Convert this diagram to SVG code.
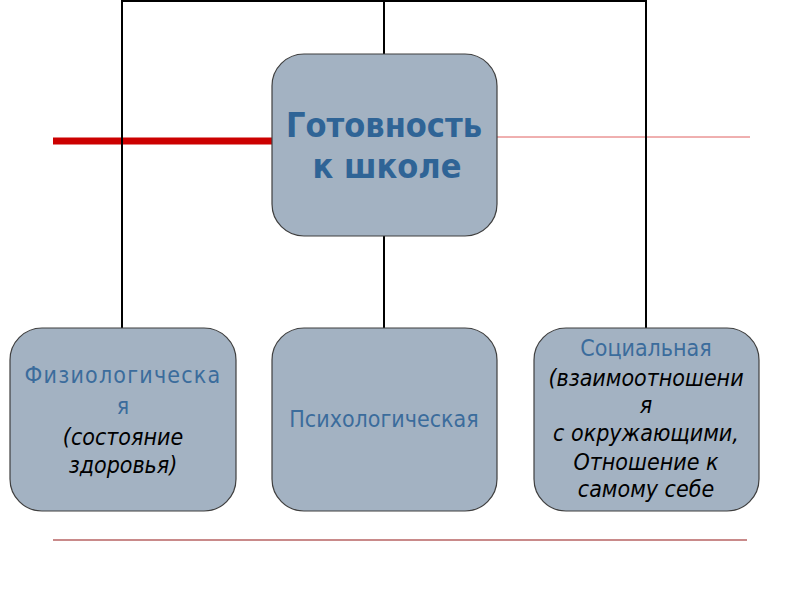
<svg xmlns="http://www.w3.org/2000/svg" width="800" height="600" viewBox="0 0 800 600">
<style>
.box{fill:#a3b2c2;stroke:#3f3f3f;stroke-width:1.2}
.conn{stroke:#000;stroke-width:2;fill:none}
.t{font-family:"DejaVu Sans Condensed","DejaVu Sans",sans-serif;font-stretch:condensed;font-size:23px;text-anchor:middle}
.blue{fill:#3b6c9c}
.it{fill:#000;font-style:italic}
.title{font-family:"DejaVu Sans Condensed","DejaVu Sans",sans-serif;font-stretch:condensed;font-weight:bold;font-size:34px;fill:#2f6496;text-anchor:middle}
</style>
<rect width="800" height="600" fill="#fff"/>
<g id="decor">
<line x1="53" y1="141" x2="272" y2="141" stroke="#cc0000" stroke-width="7"/>
<line x1="497" y1="137" x2="750" y2="137" stroke="#e06060" stroke-width="1"/>
<line x1="53" y1="540" x2="747" y2="540" stroke="#c98a8a" stroke-width="2"/>
</g>
<g id="connectors">
<polyline class="conn" points="122,328 122,1 646,1 646,328"/>
<line class="conn" x1="384" y1="1" x2="384" y2="54"/>
<line class="conn" x1="384" y1="236" x2="384" y2="328"/>
</g>
<g id="node-center">
<rect class="box" x="272" y="54" width="225" height="182" rx="32"/>
<text class="title" x="384" y="137">Готовность</text>
<text class="title" x="387" y="178">к школе</text>
</g>
<g id="node-left">
<rect class="box" x="10" y="328" width="226" height="183" rx="32"/>
<text class="t blue" x="123" y="383" letter-spacing="1.2">Физиологическа</text>
<text class="t blue" x="123" y="414">я</text>
<text class="t it" x="123" y="445">(состояние</text>
<text class="t it" x="123" y="473">здоровья)</text>
</g>
<g id="node-middle">
<rect class="box" x="272" y="328" width="225" height="183" rx="32"/>
<text class="t blue" x="384" y="427">Психологическая</text>
</g>
<g id="node-right">
<rect class="box" x="534" y="328" width="225" height="183" rx="32"/>
<text class="t blue" x="646" y="356">Социальная</text>
<text class="t it" x="646" y="386">(взаимоотношени</text>
<text class="t it" x="646" y="413">я</text>
<text class="t it" x="646" y="441">с окружающими,</text>
<text class="t it" x="646" y="470">Отношение к</text>
<text class="t it" x="646" y="497">самому себе</text>
</g>
</svg>
